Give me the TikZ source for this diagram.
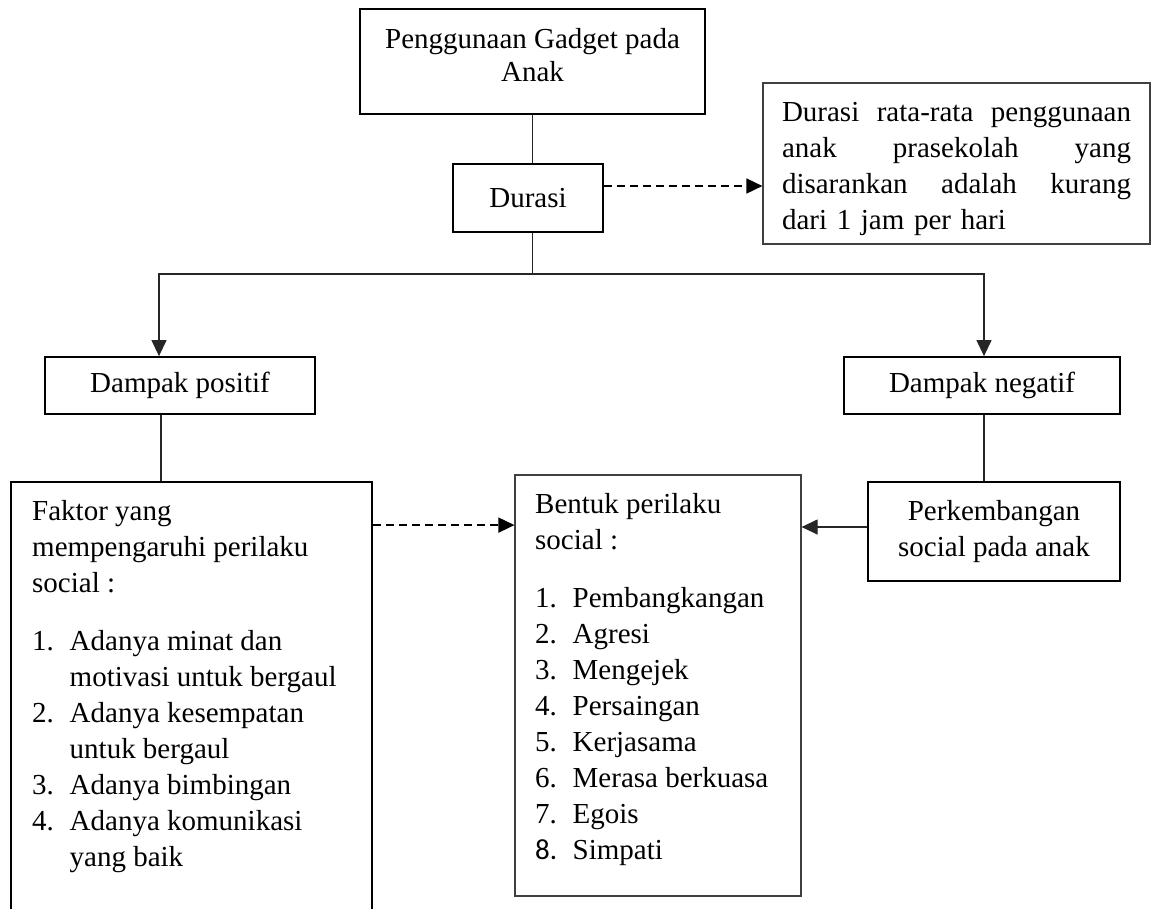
\documentclass[tikz,border=0pt]{standalone}
\usepackage{fontspec}
\setmainfont{Liberation Serif}
\newfontfamily\angkafont{Carlito}
\usepackage{tikz}
\usetikzlibrary{positioning, arrows.meta}

\newcommand{\ganjal}[1]{\rule[-#1]{0pt}{#1}}
\newcommand{\butir}[1]{\makebox[37.5pt][l]{#1}}
\newcommand{\baris}[1]{\makebox[349pt][s]{#1}}

\tikzset{
    kotak/.style={draw=black, line width=1.8pt, align=center, inner sep=0pt},
    kotaktipis/.style={draw=black!75, line width=1.2pt, inner sep=0pt},
    garis/.style={draw=black!85, line width=1.2pt},
    panah/.style={garis, -{Triangle[width=15pt,length=16pt]}},
    putus/.style={panah, draw=black, line width=1.7pt, dash pattern=on 8pt off 5pt},
    isi/.style={inner sep=0pt, anchor=north west, align=left}
}

\begin{document}
\begin{tikzpicture}[x=1pt, y=-1pt, font=\fontsize{29}{36}\selectfont]
    \useasboundingbox (0,0) rectangle (1156,908);
    \clip (0,0) rectangle (1156,908);
    % atas
    \node[kotak, minimum width=345pt, minimum height=105pt, font=\fontsize{29}{33}\selectfont] (gadget) at (532.5,61.5) {Penggunaan Gadget pada\\Anak\ganjal{14pt}};
    \node[kotak, minimum width=150pt, minimum height=68pt] (durasi) at (528,198) {Durasi};
    \node[kotaktipis, minimum width=387pt, minimum height=161pt, text width=349pt, align=left] (info) at (956.5,163.5) {\rule{0pt}{30pt}\baris{Durasi\hfill rata-rata\hfill penggunaan}\\
\baris{anak\hfill prasekolah\hfill yang}\\
\baris{disarankan\hfill adalah\hfill kurang}\\
dari 1 jam per hari};
    % tengah
    \coordinate (cabang) at (532.5,274);
    \node[kotak, minimum width=270pt, minimum height=57pt] (positif) at (180,385.5) {Dampak positif};
    \node[kotak, minimum width=276pt, minimum height=57pt] (negatif) at (982,385.5) {Dampak negatif};
    % bawah
    \node[kotak, minimum width=361pt, minimum height=458pt] (faktor) at (191.5,711) {};
    \node[isi] (faktorisi) at (32,500) {Faktor yang\\mempengaruhi perilaku\\social :\\[22pt]%
\butir{1.}Adanya minat dan\\\hspace*{37.5pt}motivasi untuk bergaul\\%
\butir{2.}Adanya kesempatan\\\hspace*{37.5pt}untuk bergaul\\%
\butir{3.}Adanya bimbingan\\%
\butir{4.}Adanya komunikasi\\\hspace*{37.5pt}yang baik};
    \node[kotak, minimum width=252pt, minimum height=99pt] (kembang) at (994,531.5) {Perkembangan\\social pada anak};
    \node[kotaktipis, minimum width=286pt, minimum height=421pt] (bentuk) at (658,685.5) {};
    \node[isi] (bentukisi) at (535,493) {Bentuk perilaku\\social :\\[22pt]%
\butir{1.}Pembangkangan\\\butir{2.}Agresi\\\butir{3.}Mengejek\\\butir{4.}Persaingan\\%
\butir{5.}Kerjasama\\\butir{6.}Merasa berkuasa\\\butir{7.}Egois\\\butir{\angkafont 8.}Simpati};
    % garis
    \draw[garis] (gadget.south) -- (gadget.south |- durasi.north);
    \draw[garis] (gadget.south |- durasi.south) -- (cabang);
    \draw[putus] ([yshift=12pt]durasi.east) coordinate (d1) -- (d1 -| info.west);
    \draw[panah] (cabang) -| ([xshift=-21pt]positif.north);
    \draw[panah] (cabang) -| ([xshift=2pt]negatif.north);
    \draw[garis] ([xshift=-19pt]positif.south) coordinate (p1) -- (p1 |- faktor.north);
    \draw[garis] ([xshift=2pt]negatif.south) coordinate (n1) -- (n1 |- kembang.north);
    \draw[putus] ([yshift=-44pt]faktor.north east) coordinate (f1) -- (f1 -| bentuk.west);
    \draw[panah] ([yshift=4.5pt]kembang.west) coordinate (k1) -- (k1 -| bentuk.east);
\end{tikzpicture}
\end{document}
